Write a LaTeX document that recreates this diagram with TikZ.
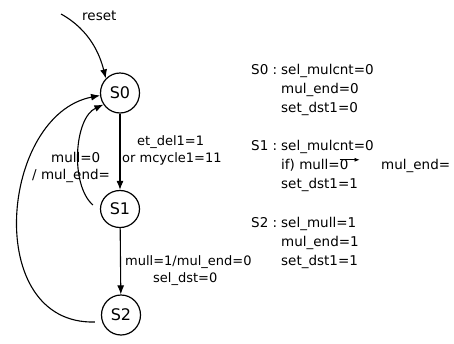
\documentclass[tikz,border=0pt]{standalone}
\usepackage{fontspec}
\setmainfont{DejaVu Sans}
\usetikzlibrary{arrows.meta,shapes.geometric}
\begin{document}
\begin{tikzpicture}[x=1pt,y=-1pt,
  state/.style={draw,line width=1.2pt,ellipse,minimum width=39pt,minimum height=40pt,inner sep=0pt,font=\fontsize{16}{18}\selectfont},
  lbl/.style={font=\fontsize{13}{15}\selectfont,inner sep=0pt,anchor=base west},
  info/.style={font=\fontsize{13.5}{15}\selectfont,inner sep=0pt,anchor=base west},
  arr/.style={line width=1.1pt,-{Latex[length=9pt,width=7pt]}}]
\useasboundingbox (0,0) rectangle (454,343);
\node[state] (s0) at (120,93) {S0};
\node[state,minimum height=37pt] (s1) at (120,209) {S1};
\node[state] (s2) at (121,315) {S2};
\coordinate (rs) at (61,14);
\node[lbl,font=\fontsize{13.5}{15}\selectfont] (reset) at (82,20) {reset};
\draw[arr] (rs) .. controls (90,30) and (100,55) .. (s0.north west);
\draw[arr] (s0) -- (s1);
\draw[arr] (s1) -- (s2);
\draw[arr] (s1.west) ++(-7,-4) coordinate (a1)
  (a1) .. controls (70,185) and (74,118) .. (s0.215);
\draw[arr] (s2.west) ++(-6,7) coordinate (a2)
  (a2) .. controls (-18,325) and (0,115) .. (s0.187);
\node[lbl] (e1) at (137,145) {et\_del1=1};
\node[lbl] (e2) at (122,162) {or mcycle1=11};
\node[lbl,font=\fontsize{13.5}{15}\selectfont] (e3) at (51,162) {mull=0};
\node[lbl,font=\fontsize{13.5}{15}\selectfont] (e4) at (32,179) {/ mul\_end=};
\node[lbl] (e5) at (125,265) {mull=1/mul\_end=0};
\node[lbl] (e6) at (153,282) {sel\_dst=0};
\node[info] (t0) at (251,74) {S0 :};
\node[info] (t0a) at (281,74) {sel\_mulcnt=0};
\node[info] (t0b) at (281,93) {mul\_end=0};
\node[info] (t0c) at (281,112) {set\_dst1=0};
\node[info] (t1) at (251,150) {S1 :};
\node[info] (t1a) at (281,150) {sel\_mulcnt=0};
\node[info] (t1b) at (281,169) {if) mull=0};
\draw[line width=0.7pt,-{Latex[length=5pt,width=4pt]}] (t1b.east) ++(-9,-5) -- ++(20,0);
\node[info] (t1d) at (381,169) {mul\_end=};
\node[info] (t1c) at (281,188) {set\_dst1=1};
\node[info] (t2) at (251,227) {S2 :};
\node[info] (t2a) at (281,227) {sel\_mull=1};
\node[info] (t2b) at (281,246) {mul\_end=1};
\node[info] (t2c) at (281,265) {set\_dst1=1};
\end{tikzpicture}
\end{document}
